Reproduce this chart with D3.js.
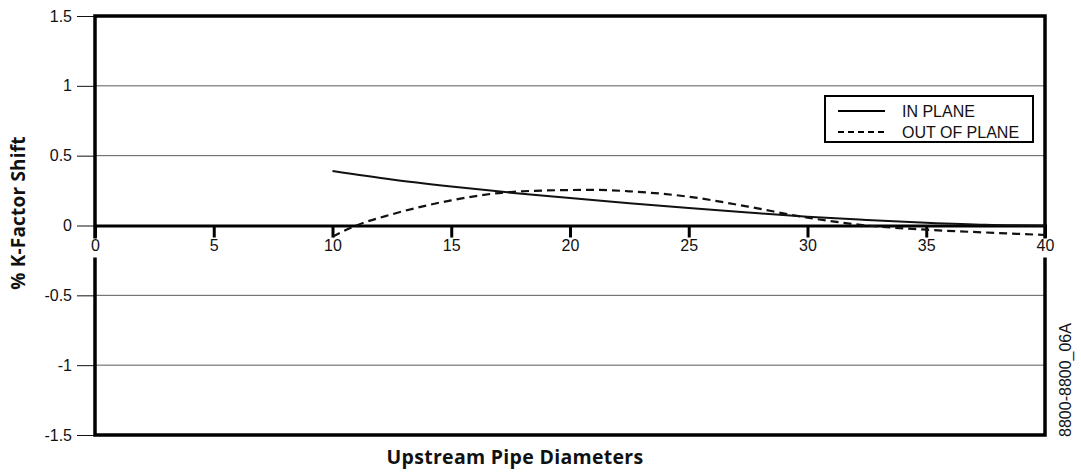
<!DOCTYPE html>
<html>
<head>
<meta charset="utf-8">
<script src="https://cdn.jsdelivr.net/npm/d3@7"></script>
<style>
  body { margin: 0; background: #fff; }
  svg { display: block; }
</style>
</head>
<body>
<div id="chart"></div>
<script>
// data
const xTicks = [0, 5, 10, 15, 20, 25, 30, 35, 40];
const yTicks = [1.5, 1, 0.5, 0, -0.5, -1, -1.5];
const yTickLabels = ["1.5", "1", "0.5", "0", "-0.5", "-1", "-1.5"];

const inPlaneX = [10, 12.5, 15, 17.5, 20, 22.5, 25, 27.5, 30, 32.5, 35, 37.5, 40];
const inPlaneY = [0.39, 0.33, 0.28, 0.235, 0.197, 0.16, 0.125, 0.093, 0.063, 0.04, 0.02, 0.005, 0.0];

const outPlaneX = [10, 11, 12.5, 15, 17.5, 20, 21, 22.5, 25, 27.5, 30, 32.5, 35, 37.5, 40];
const outPlaneY = [-0.08, 0.0, 0.08, 0.18, 0.24, 0.254, 0.255, 0.245, 0.206, 0.135, 0.056, 0.0, -0.03, -0.05, -0.068];

const legendLabels = ["IN PLANE", "OUT OF PLANE"];

const W = 1081, H = 472;
const margin = {top: 16, right: 36, bottom: 37, left: 95};
const width = W - margin.left - margin.right,
      height = H - margin.top - margin.bottom;

const svg = d3.select("#chart").append("svg")
    .attr("width", W)
    .attr("height", H);

const x = d3.scaleLinear().domain([0, 40]).range([margin.left, margin.left + width]);
const y = d3.scaleLinear().domain([-1.5, 1.5]).range([margin.top + height, margin.top]);

const font = "Liberation Sans, Arial, Helvetica, sans-serif";

// grid lines
svg.append("g").selectAll("line")
    .data(yTicks.filter(d => d !== 0 && Math.abs(d) !== 1.5))
  .join("line")
    .attr("x1", x(0)).attr("x2", x(40))
    .attr("y1", d => y(d)).attr("y2", d => y(d))
    .attr("stroke", "#5a5a5a").attr("stroke-width", 1);

// y axis: thin ticks to the left, labels
const yAxis = svg.append("g")
    .attr("transform", "translate(" + x(0) + ",0)")
    .call(d3.axisLeft(y).tickValues(yTicks).tickSize(18).tickPadding(5)
      .tickFormat((d, i) => yTickLabels[i]));
yAxis.select(".domain").remove();
yAxis.selectAll(".tick line").attr("stroke", "#111").attr("stroke-width", 1);
yAxis.selectAll(".tick text")
    .attr("font-family", font).attr("font-size", 16).attr("fill", "#111");

// frame
svg.append("rect")
    .attr("x", x(0)).attr("y", y(1.5))
    .attr("width", x(40) - x(0)).attr("height", y(-1.5) - y(1.5))
    .attr("fill", "none").attr("stroke", "#000").attr("stroke-width", 3.5);

// x axis on the zero line
const xAxis = svg.append("g")
    .attr("transform", "translate(0," + y(0) + ")")
    .call(d3.axisBottom(x).tickValues(xTicks).tickSize(12).tickPadding(0));
xAxis.select(".domain").attr("stroke", "#000").attr("stroke-width", 3);
xAxis.selectAll(".tick line").attr("stroke", "#000").attr("stroke-width", 3);
xAxis.selectAll(".tick").each(function(d) {
  const t = d3.select(this);
  if (d === 0 || d === 40) {
    t.insert("rect", "text")
      .attr("x", -11).attr("y", 13).attr("width", 22).attr("height", 19)
      .attr("fill", "#fff");
  }
});
xAxis.selectAll(".tick text")
    .attr("y", 14)
    .attr("dy", "0.71em")
    .attr("font-family", font).attr("font-size", 16).attr("fill", "#111");

// lines
const line = d3.line()
    .x(d => x(d[0]))
    .y(d => y(d[1]))
    .curve(d3.curveMonotoneX);

svg.append("path")
    .datum(d3.zip(inPlaneX, inPlaneY))
    .attr("fill", "none")
    .attr("stroke", "#111")
    .attr("stroke-width", 2)
    .attr("d", line);

svg.append("path")
    .datum(d3.zip(outPlaneX, outPlaneY))
    .attr("fill", "none")
    .attr("stroke", "#111")
    .attr("stroke-width", 2.2)
    .attr("stroke-dasharray", "8,5")
    .attr("d", line);

// legend
const legend = svg.append("g").attr("transform", "translate(825,96)");
legend.append("rect")
    .attr("width", 208).attr("height", 46)
    .attr("fill", "#fff").attr("stroke", "#000").attr("stroke-width", 2);
legendLabels.forEach((lab, i) => {
  const yy = 15 + i * 21;
  legend.append("line")
      .attr("x1", 13).attr("x2", 60).attr("y1", yy).attr("y2", yy)
      .attr("stroke", "#000").attr("stroke-width", 2.2)
      .attr("stroke-dasharray", i === 0 ? null : "6,4");
  legend.append("text")
      .attr("x", 77).attr("y", yy + 6)
      .attr("font-family", font).attr("font-size", 16).attr("fill", "#111")
      .text(lab);
});

// axis titles
svg.append("text")
    .attr("transform", "translate(25,213) rotate(-90)")
    .attr("text-anchor", "middle")
    .attr("font-family", "Open Sans, sans-serif").attr("font-weight", "bold")
    .attr("font-size", 19).attr("letter-spacing", 0.2).attr("fill", "#111")
    .text("% K-Factor Shift");

svg.append("text")
    .attr("x", 515).attr("y", 464)
    .attr("text-anchor", "middle")
    .attr("font-family", "Open Sans, sans-serif").attr("font-weight", "bold")
    .attr("font-size", 19.5).attr("letter-spacing", 0.3).attr("fill", "#111")
    .text("Upstream Pipe Diameters");

// figure id on the right
svg.append("text")
    .attr("transform", "translate(1071,380) rotate(-90)")
    .attr("text-anchor", "middle")
    .attr("font-family", font).attr("font-size", 16).attr("fill", "#111")
    .text("8800-8800_06A");
</script>
</body>
</html>
